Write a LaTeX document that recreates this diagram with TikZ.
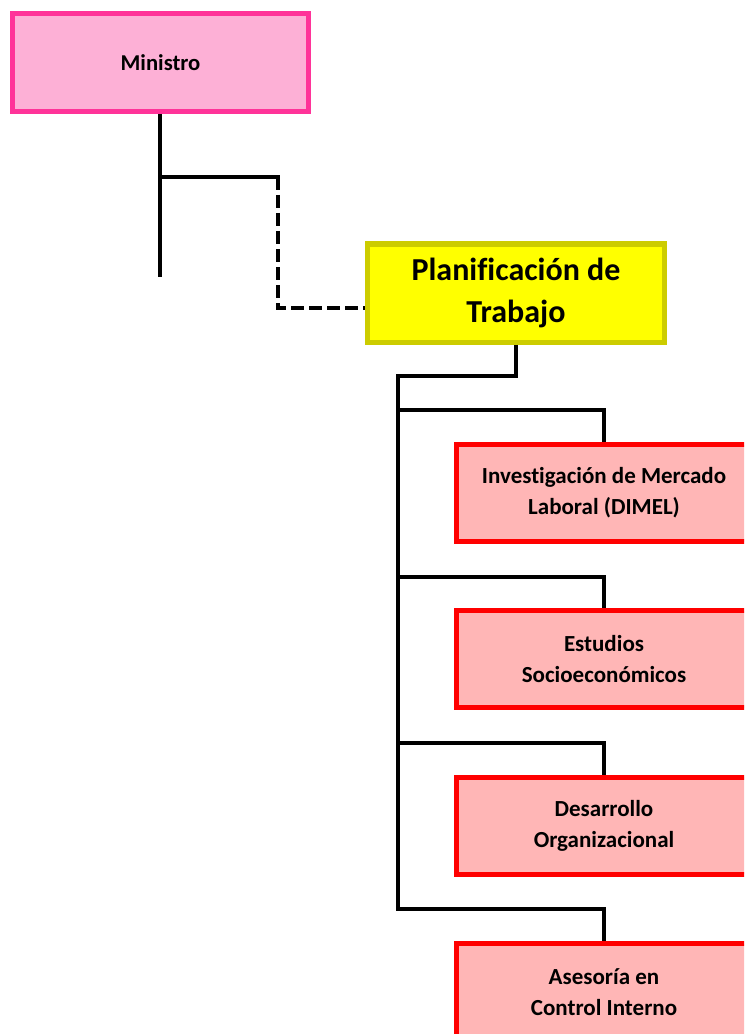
\documentclass[tikz,border=0pt]{standalone}
\usepackage{fontspec}
\setmainfont[Ligatures={NoCommon,NoContextual},Contextuals=NoAlternate]{Carlito}
\definecolor{minfill}{RGB}{253,176,214}
\definecolor{mindraw}{RGB}{255,51,153}
\definecolor{planfill}{RGB}{255,255,0}
\definecolor{plandraw}{RGB}{204,204,0}
\definecolor{redfill}{RGB}{255,182,182}
\definecolor{reddraw}{RGB}{255,0,0}
\begin{document}
\begin{tikzpicture}[x=0.75pt,y=-0.75pt,
  basebox/.style={draw, inner sep=0pt, align=center, line width=3.75pt},
  minbox/.style={basebox, fill=minfill, draw=mindraw, minimum width=222pt, minimum height=73.5pt,
    font=\bfseries\fontsize{17}{22}\selectfont},
  planbox/.style={basebox, fill=planfill, draw=plandraw, minimum width=222.75pt, minimum height=73.5pt,
    font=\bfseries\fontsize{24}{31.5}\selectfont},
  redbox/.style={basebox, fill=redfill, draw=reddraw, minimum width=221.25pt, minimum height=72.75pt,
    font=\bfseries\fontsize{17.25}{23.25}\selectfont},
  conn/.style={line width=3.7pt, black},
  dashconn/.style={conn, dash pattern=on 9.75pt off 3.75pt}]
\useasboundingbox (0,0) rectangle (744,1034);
\clip (0,0) rectangle (744,1034);

\node[minbox] (min) at (160.5,62.5) {Ministro};
\node[planbox] (plan) at (516,293) {Planificación de\\Trabajo};
\node[redbox] (b1) at (604,493) {Investigación de Mercado\\Laboral (DIMEL)};
\node[redbox] (b2) at (604,659) {Estudios\\Socioeconómicos};
\node[redbox] (b3) at (604,825.5) {Desarrollo\\Organizacional};
\node[redbox] (b4) at (604,992) {Asesoría en\\Control Interno};

% Ministro connectors
\coordinate (mend) at (160,277);
\coordinate (j0) at (160,177);
\coordinate (c0) at (278,177);
\draw[conn] (min.south -| mend) -- (mend);
\draw[conn, line cap=rect] (j0) -- (c0);
\draw[dashconn] (c0) |- ([yshift=-11.25pt]plan.west);

% Planificacion trunk
\coordinate (t0) at (398,376);
\coordinate (t1) at (398,410);
\coordinate (t2) at (398,577);
\coordinate (t3) at (398,743);
\coordinate (t4) at (398,909);
\draw[conn] (plan.south) |- (t0) -- (t4) -| (b4.north);
\draw[conn] (b1.north) |- (t1);
\draw[conn] (b2.north) |- (t2);
\draw[conn] (b3.north) |- (t3);
\end{tikzpicture}
\end{document}
